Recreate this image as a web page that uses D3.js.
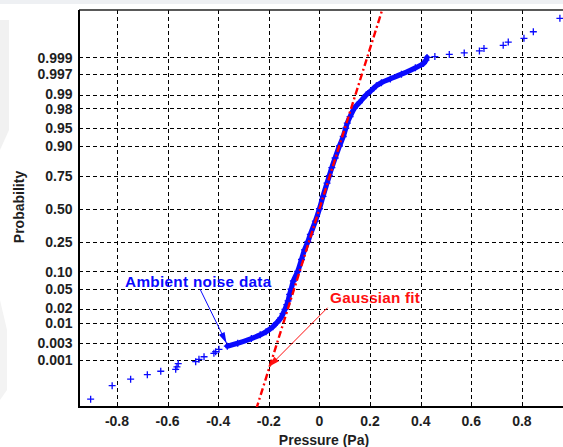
<!DOCTYPE html>
<html><head><meta charset="utf-8">
<script src="https://cdn.jsdelivr.net/npm/d3@7"></script>
<style>body{margin:0;background:#fff}svg{display:block;font-family:"Liberation Sans",Arial,sans-serif}</style>
</head><body><svg id="c" width="563" height="447"></svg>
<script>
// ---- data ----
const xTicks = [-0.8,-0.6,-0.4,-0.2,0,0.2,0.4,0.6,0.8];
const xTickLabels = ["-0.8","-0.6","-0.4","-0.2","0","0.2","0.4","0.6","0.8"];
const yTicks = [0.001,0.003,0.01,0.02,0.05,0.10,0.25,0.50,0.75,0.90,0.95,0.98,0.99,0.997,0.999];
const yTickLabels = ["0.001","0.003","0.01","0.02","0.05","0.10","0.25","0.50","0.75","0.90","0.95","0.98","0.99","0.997","0.999"];
// sparse lower-tail samples
const lowTailPressure = [-0.904,-0.819,-0.746,-0.680,-0.627,-0.568,-0.563,-0.558,-0.489,-0.476,-0.456,-0.417,-0.410,-0.397];
const lowTailProb     = [0.00005,0.00015,0.00025,0.00035,0.00045,0.00052,0.00062,0.00078,0.00089,0.00105,0.00125,0.00157,0.00174,0.00204];
// dense body of the sample (overlapping markers)
const bodyProb = [0.0025,0.003,0.004,0.005,0.006,0.008,0.01,0.013,0.016,0.02,0.025,0.03,0.04,0.05,0.07,0.1,0.15,0.2,0.25,0.3,0.4,0.5,0.6,0.7,0.75,0.8,0.85,0.9,0.93,0.95,0.96,0.97,0.98,0.985,0.99,0.992,0.994,0.995,0.996,0.997,0.998,0.9985,0.9988,0.999];
const bodyPressure = [-0.364,-0.323,-0.269,-0.234,-0.211,-0.184,-0.168,-0.152,-0.144,-0.136,-0.129,-0.124,-0.118,-0.112,-0.103,-0.086,-0.071,-0.059,-0.046,-0.036,-0.016,0.000,0.014,0.030,0.039,0.049,0.062,0.079,0.094,0.104,0.110,0.121,0.138,0.158,0.185,0.203,0.225,0.245,0.280,0.324,0.379,0.411,0.421,0.425];
// sparse upper-tail samples
const highTailPressure = [0.456,0.513,0.572,0.632,0.650,0.726,0.746,0.808,0.845,0.950];
const highTailProb     = [0.99906,0.99919,0.99927,0.99937,0.99947,0.99958,0.99967,0.99975,0.99985,0.99995];
// Gaussian fit line (end points)
const fitPressure = [-0.25, 0.25];
const fitProb = [0.000021, 0.999979];

// ---- inverse normal CDF (probability-paper transform) ----
function norminv(p){
  const a=[-3.969683028665376e+01,2.209460984245205e+02,-2.759285104469687e+02,1.383577518672690e+02,-3.066479806614716e+01,2.506628277459239e+00];
  const b=[-5.447609879822406e+01,1.615858368580409e+02,-1.556989798598866e+02,6.680131188771972e+01,-1.328068155288572e+01];
  const c=[-7.784894002430293e-03,-3.223964580411365e-01,-2.400758277161838e+00,-2.549671492984153e+00,4.374664141464968e+00,2.938163982698783e+00];
  const d=[7.784695709041462e-03,3.224671290700398e-01,2.445134137142996e+00,3.754408661907416e+00];
  const pl=0.02425, ph=1-pl; let q,r;
  if(p<pl){q=Math.sqrt(-2*Math.log(p));return (((((c[0]*q+c[1])*q+c[2])*q+c[3])*q+c[4])*q+c[5])/((((d[0]*q+d[1])*q+d[2])*q+d[3])*q+1);}
  if(p<=ph){q=p-0.5;r=q*q;return (((((a[0]*r+a[1])*r+a[2])*r+a[3])*r+a[4])*r+a[5])*q/(((((b[0]*r+b[1])*r+b[2])*r+b[3])*r+b[4])*r+1);}
  q=Math.sqrt(-2*Math.log(1-p));return -(((((c[0]*q+c[1])*q+c[2])*q+c[3])*q+c[4])*q+c[5])/((((d[0]*q+d[1])*q+d[2])*q+d[3])*q+1);
}

const L=79, R=563.7, T=10, B=407;
const svg=d3.select("#c");
const x=d3.scaleLinear().domain([-0.95,0.965]).range([L,R]);
const zs=d3.scaleLinear().domain([-4.05,4.06]).range([B,T]);
const y=p=>zs(norminv(p));

// faint page background shapes
svg.append("rect").attr("x",0).attr("y",0).attr("width",563).attr("height",4).attr("fill","#eef0f3");
svg.append("path").attr("d","M0,20L9,20L9,130L0,150Z").attr("fill","#f1f1f1");
svg.append("path").attr("d","M0,300L7,330L7,390L0,400Z").attr("fill","#f3f3f3");

svg.append("defs").append("clipPath").attr("id","clip").append("rect")
  .attr("x",L).attr("y",T).attr("width",R-L).attr("height",B-T);

// grid
const grid=svg.append("g").attr("stroke","#000").attr("stroke-width",1).attr("stroke-dasharray","4,3");
grid.selectAll("line.h").data(yTicks).join("line").attr("class","h")
  .attr("x1",L).attr("x2",R).attr("y1",d=>Math.round(y(d))+0.5).attr("y2",d=>Math.round(y(d))+0.5);
grid.selectAll("line.v").data(xTicks).join("line").attr("class","v")
  .attr("y1",T).attr("y2",B).attr("x1",d=>Math.round(x(d))+0.5).attr("x2",d=>Math.round(x(d))+0.5);

// axes frame
svg.append("line").attr("x1",L).attr("x2",R).attr("y1",T).attr("y2",T).attr("stroke","#222").attr("stroke-width",1.5);
svg.append("line").attr("x1",L).attr("x2",L).attr("y1",T).attr("y2",B+1).attr("stroke","#000").attr("stroke-width",2);
svg.append("line").attr("x1",L-1).attr("x2",R).attr("y1",B).attr("y2",B).attr("stroke","#000").attr("stroke-width",2);

// tick labels (tightly stacked pairs nudged apart slightly)
const nudge={"0.99":-1.2,"0.98":0.8,"0.02":-1.2,"0.01":0.8};
const tf=svg.append("g").attr("font-size","14px").attr("font-weight","bold").attr("fill","#1e1e1e");
tf.selectAll("text.y").data(yTicks).join("text").attr("class","y")
  .attr("x",72.5).attr("y",(d,i)=>y(d)+(nudge[yTickLabels[i]]||0)).attr("dy","0.36em").attr("text-anchor","end")
  .text((d,i)=>yTickLabels[i]);
tf.selectAll("text.x").data(xTicks).join("text").attr("class","x")
  .attr("x",d=>x(d)).attr("y",426).attr("text-anchor","middle")
  .text((d,i)=>xTickLabels[i]);
tf.append("text").attr("x",324).attr("y",445).attr("text-anchor","middle").text("Pressure (Pa)");
tf.append("text").attr("transform","translate(24,207) rotate(-90)").attr("text-anchor","middle").text("Probability");

// data
const plot=svg.append("g").attr("clip-path","url(#clip)");
const blue="#0a0aff";
const cross="M-3.5,0H3.5M0,-3.5V3.5";
const body=bodyPressure.map((v,i)=>[v,bodyProb[i]]);
plot.append("path").datum(body)
  .attr("d",d3.line().x(d=>x(d[0])).y(d=>y(d[1])).curve(d3.curveCatmullRom))
  .attr("fill","none").attr("stroke",blue).attr("stroke-width",5.2).attr("stroke-linejoin","round").attr("stroke-linecap","round");
const allPts=[].concat(
  lowTailPressure.map((v,i)=>[v,lowTailProb[i]]),
  body,
  highTailPressure.map((v,i)=>[v,highTailProb[i]]));
plot.selectAll("path.pt").data(allPts).join("path").attr("class","pt")
  .attr("d",cross).attr("transform",d=>`translate(${x(d[0])},${y(d[1])})`)
  .attr("stroke",blue).attr("stroke-width",1.3).attr("fill","none");

// Gaussian fit
plot.append("path").datum(fitPressure.map((v,i)=>[v,fitProb[i]]))
  .attr("d",d3.line().x(d=>x(d[0])).y(d=>y(d[1])))
  .attr("stroke","#ff0000").attr("stroke-width",2.4).attr("fill","none").attr("stroke-dasharray","7,3,2,3");

// annotations
function arrow(x1,y1,x2,y2,col){
  svg.append("line").attr("x1",x1).attr("y1",y1).attr("x2",x2).attr("y2",y2).attr("stroke",col).attr("stroke-width",1);
  const a=Math.atan2(y2-y1,x2-x1), len=11, w=3.2;
  const bx=x2-len*Math.cos(a), by=y2-len*Math.sin(a);
  const px=-Math.sin(a)*w, py=Math.cos(a)*w;
  svg.append("path").attr("d",`M${x2},${y2}L${bx+px},${by+py}L${bx-px},${by-py}Z`).attr("fill",col);
}
arrow(x(-0.472),y(0.0505),x(-0.367),y(0.003),blue);
arrow(x(0.032),y(0.0216),x(-0.200),y(0.00062),"#ff1010");
svg.append("text").attr("x",x(-0.768)).attr("y",y(0.055)).attr("font-size","15.3px").attr("font-weight","bold")
  .attr("letter-spacing","0.3px").attr("fill",blue).text("Ambient noise data");
svg.append("text").attr("x",x(0.042)).attr("y",y(0.0277)).attr("font-size","15.3px").attr("font-weight","bold")
  .attr("letter-spacing","0.2px").attr("fill","#ff1010").text("Gaussian fit");
</script></body></html>
